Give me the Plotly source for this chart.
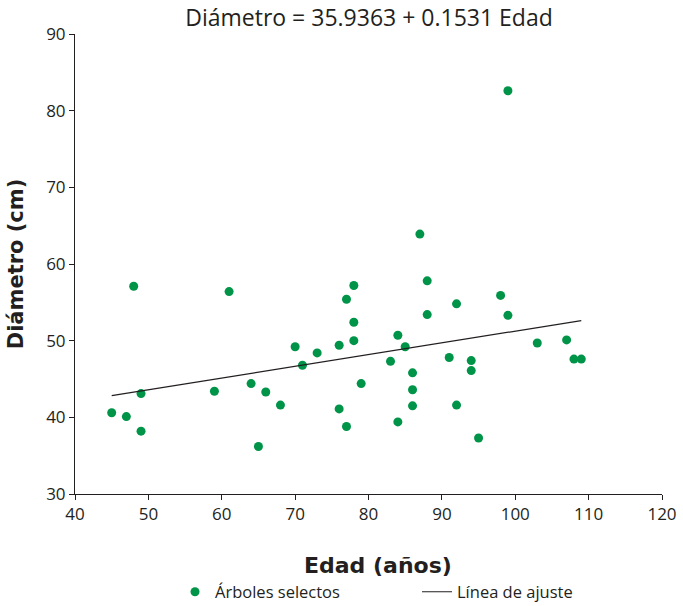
import plotly.graph_objects as go

edad = [45, 47, 48, 49, 49, 59, 61, 64, 65, 66, 68, 70, 71, 73, 76, 76, 77, 77,
        78, 78, 78, 79, 83, 84, 84, 85, 86, 86, 86, 87, 88, 88, 91, 92, 92, 94,
        94, 95, 98, 99, 99, 103, 107, 108, 109]
diametro = [40.6, 40.1, 57.1, 43.1, 38.2, 43.4, 56.4, 44.4, 36.2, 43.3, 41.6,
            49.2, 46.8, 48.4, 49.4, 41.1, 55.4, 38.8, 57.2, 52.4, 50.0, 44.4,
            47.3, 50.7, 39.4, 49.2, 45.8, 43.6, 41.5, 63.9, 57.8, 53.4, 47.8,
            54.8, 41.6, 47.4, 46.1, 37.3, 55.9, 53.3, 82.6, 49.7, 50.1, 47.6, 47.6]
intercepto = 35.9363
pendiente = 0.1531
x_tick_vals = [40, 50, 60, 70, 80, 90, 100, 110, 120]
y_tick_vals = [30, 40, 50, 60, 70, 80, 90]

x_fit = [min(edad), max(edad)]
y_fit = [intercepto + pendiente * v for v in x_fit]

font_fam = "Open Sans, Noto Sans, sans-serif"
bold_fam = "DejaVu Sans, sans-serif"
txt_col = "#231f20"

L, R, T, B = 75, 21, 34, 112
W, H = 683, 606
pw, ph = W - L - R, H - T - B

fig = go.Figure()
fig.add_trace(go.Scatter(
    x=edad, y=diametro, mode="markers", name="Árboles selectos",
    marker=dict(color="#009448", size=9, line=dict(width=0)),
))
fig.add_trace(go.Scatter(
    x=x_fit, y=y_fit, mode="lines", name="Línea de ajuste",
    line=dict(color="#231f20", width=1.2),
))

fig.update_layout(
    width=W, height=H,
    margin=dict(l=L, r=R, t=T, b=B, autoexpand=False),
    paper_bgcolor="white", plot_bgcolor="white",
    font=dict(family=font_fam, color=txt_col, size=16),
    title=dict(text="Diámetro = 35.9363 + 0.1531 Edad", x=369 / W,
               xanchor="center", y=1 - 18 / H, yanchor="middle",
               font=dict(size=23, family=font_fam, color=txt_col)),
    showlegend=True,
    legend=dict(orientation="h", x=(175 - L) / pw, xanchor="left",
                y=-(592 - (H - B)) / ph, yanchor="middle",
                font=dict(size=16.5, family=font_fam, color=txt_col),
                entrywidth=197, entrywidthmode="pixels",
                bgcolor="rgba(0,0,0,0)"),
    xaxis=dict(range=[40, 120], tickvals=x_tick_vals, showgrid=False, zeroline=False,
               showline=True, linecolor="#231f20", linewidth=1,
               ticks="outside", ticklen=5, tickcolor="#231f20",
               tickfont=dict(size=17)),
    yaxis=dict(range=[30, 90], tickvals=y_tick_vals, showgrid=False, zeroline=False,
               showline=True, linecolor="#231f20", linewidth=1,
               ticks="outside", ticklen=5, tickcolor="#231f20",
               tickfont=dict(size=17),
               title=dict(text="<b>Diámetro (cm)</b>", standoff=16,
                          font=dict(size=21, family=bold_fam, color=txt_col))),
    annotations=[dict(text="<b>Edad (años)</b>", xref="paper", yref="paper",
                      x=(378 - L) / pw, y=-(565 - (H - B)) / ph,
                      xanchor="center", yanchor="middle", showarrow=False,
                      font=dict(size=22, family=bold_fam, color=txt_col))],
)

fig.write_html("out.html")
